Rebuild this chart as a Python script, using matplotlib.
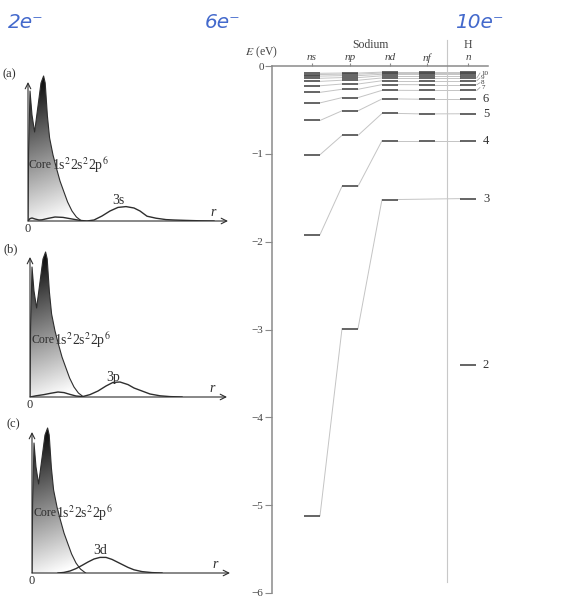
import numpy as np
import matplotlib.pyplot as plt
from matplotlib.patches import Polygon

plt.rcParams['font.family'] = ['Liberation Serif', 'DejaVu Serif']
plt.rcParams['mathtext.fontset'] = 'stix'

# ---- radial distributions (arbitrary units) ----
core_r = [0, 0.03, 0.1, 0.2, 0.33, 0.5, 0.65, 0.78, 0.86, 0.97, 1.08, 1.25,
          1.42, 1.6, 1.78, 1.98, 2.2, 2.42, 2.68]
core_p = [0, 3.5, 6.5, 5.3, 4.45, 5.75, 6.9, 7.25, 6.9, 5.25, 4.15, 3.3,
          2.65, 2.0, 1.5, 0.95, 0.5, 0.2, 0]

r_3s = [0, 0.1, 0.2, 0.35, 0.55, 0.7, 1.0, 1.35, 1.75, 2.2, 2.6, 2.95, 3.3,
        3.7, 4.1, 4.5, 4.9, 5.3, 5.6, 5.95, 6.4, 6.9, 7.3, 7.9, 8.6, 9.3]
p_3s = [0, 0.12, 0.15, 0.1, 0.05, 0.06, 0.13, 0.2, 0.18, 0.1, 0.03, 0.0, 0.05,
        0.25, 0.5, 0.68, 0.72, 0.65, 0.5, 0.24, 0.14, 0.07, 0.05, 0.03, 0.01, 0]

r_3p = [0, 0.3, 0.7, 1.0, 1.4, 1.7, 2.0, 2.3, 2.63, 3.0, 3.4, 3.8, 4.15, 4.5,
        4.9, 5.2, 5.6, 6.0, 6.5, 7.0, 7.6]
p_3p = [0, 0.06, 0.12, 0.18, 0.25, 0.22, 0.13, 0.05, 0.02, 0.12, 0.3, 0.55,
        0.73, 0.75, 0.62, 0.45, 0.3, 0.15, 0.06, 0.02, 0]

r_3d = [1.3, 1.6, 1.9, 2.2, 2.5, 2.8, 3.1, 3.4, 3.7, 4.0, 4.4, 4.8, 5.1, 5.5,
        6.0, 6.5]
p_3d = [0, 0.03, 0.1, 0.22, 0.38, 0.55, 0.7, 0.78, 0.78, 0.68, 0.48, 0.28,
        0.16, 0.07, 0.02, 0]

# ---- energy levels (eV) ----
n_vals = list(range(2, 15))
ns_E = [None, -5.12, -1.92, -1.01, -0.62, -0.42, -0.30, -0.225, -0.175, -0.14, -0.115, -0.097, -0.083]
np_E = [None, -2.99, -1.37, -0.79, -0.51, -0.36, -0.265, -0.205, -0.162, -0.132, -0.11, -0.093, -0.08]
nd_E = [None, -1.52, -0.85, -0.54, -0.375, -0.277, -0.212, -0.168, -0.136, -0.112, -0.094, -0.08, -0.07]
nf_E = [None, None, -0.85, -0.545, -0.378, -0.278, -0.213, -0.168, -0.136, -0.112, -0.094, -0.08, -0.07]
h_E = [-3.40, -1.51, -0.85, -0.544, -0.378, -0.278, -0.213, -0.168, -0.136, -0.112, -0.094, -0.08, -0.07]
col_labels = ['ns', 'np', 'nd', 'nf', 'n']
big_labels = ['2', '3', '4', '5', '6']
small_labels = ['7', '8', '9', '10']
notes = ['2e⁻', '6e⁻', '10e⁻']

W, H = 568, 600
fig = plt.figure(figsize=(W / 100, H / 100), dpi=100)

ink = '#2e2e2e'


def panel(ox, oy, tag, vr, vp, vlab, lab_xy, top, xend, core_y):
    ax = fig.add_axes([ox / W, 1 - oy / H, 210 / W, 150 / H])
    ax.set_xlim(0, 10.5)
    ax.set_ylim(0, 7.5)
    ax.axis('off')
    # shaded core
    X, Y = np.meshgrid(np.linspace(0, 10.5, 300), np.linspace(0, 7.5, 200))
    G = np.clip(0.93 - 0.13 * Y + 0.05 * X, 0, 1)
    img = ax.imshow(G, extent=[0, 10.5, 0, 7.5], origin='lower', cmap='gray',
                    vmin=0, vmax=1, aspect='auto', zorder=1)
    poly = Polygon(list(zip(core_r, core_p)), closed=True, facecolor='none',
                   edgecolor='none')
    ax.add_patch(poly)
    img.set_clip_path(poly)
    ax.plot(core_r, core_p, color=ink, lw=0.8, zorder=2)
    ax.plot(vr, vp, color=ink, lw=1.0, zorder=3)
    # axes arrows
    arr = dict(arrowstyle='->', color=ink, lw=0.8, shrinkA=0, shrinkB=0)
    ax.annotate('', xy=(0, top), xytext=(0, 0), arrowprops=arr, zorder=4)
    ax.annotate('', xy=(xend, 0), xytext=(0, 0), arrowprops=arr, zorder=4)
    ax.text(0.05, core_y, 'Core', fontsize=8.5, va='center', ha='left', color=ink, zorder=5)
    ax.text(1.2, core_y, r'1s$^2$2s$^2$2p$^6$', fontsize=10, va='center', ha='left',
            color=ink, zorder=5)
    ax.text(lab_xy[0], lab_xy[1], vlab, fontsize=10, ha='center', va='center', color=ink)
    ax.text(xend - 0.75, 0.45, 'r', fontsize=10, style='italic', ha='center',
            va='center', color=ink)
    ax.text(0, -0.4, '0', fontsize=9, ha='center', va='center', color=ink, clip_on=False)
    ax.text(-0.95, top + 0.4, tag, fontsize=9, ha='center', va='center', color=ink,
            clip_on=False)


panel(28, 221, '(a)', r_3s, p_3s, '3s', (4.5, 1.05), 6.95, 10.0, 2.8)
panel(30, 397, '(b)', r_3p, p_3p, '3p', (4.15, 1.0), 7.0, 9.85, 2.85)
panel(32, 573, '(c)', r_3d, p_3d, '3d', (3.4, 1.15), 7.05, 9.9, 3.0)

# ---- energy level diagram ----
ax = fig.add_axes([272 / W, 7 / H, 216 / W, 527 / H])
ax.set_xlim(0, 5.4)
ax.set_ylim(-6, 0)
cols = [1.0, 1.95, 2.95, 3.88, 4.9]
hw = 0.2
for s in ['right', 'bottom']:
    ax.spines[s].set_visible(False)
for s in ['left', 'top']:
    ax.spines[s].set_color('#8a8a8a')
    ax.spines[s].set_linewidth(1.1)
ax.set_yticks(range(-6, 1))
ax.tick_params(axis='y', direction='out', length=5, color='#8a8a8a',
               labelsize=8, labelcolor='#444444', pad=1)
ax.xaxis.tick_top()
ax.set_xticks(cols)
ax.set_xticklabels([])
ax.tick_params(axis='x', direction='out', length=2.5, color='#8a8a8a')
for x, lab in zip(cols, col_labels):
    ax.text(x, 0.095, lab, fontsize=8, style='italic', ha='center', va='center',
            color='#444444', clip_on=False)

columns = [ns_E, np_E, nd_E, nf_E, h_E]
# connecting lines for each n
for i in range(len(n_vals)):
    pts = [(cols[c], columns[c][i]) for c in range(5) if columns[c][i] is not None]
    for (x0, y0), (x1, y1) in zip(pts[:-1], pts[1:]):
        ax.plot([x0 + hw, x1 - hw], [y0, y1], color='#c4c4c4', lw=0.7, zorder=1)
# level bars
for c in range(5):
    for e in columns[c]:
        if e is not None:
            ax.plot([cols[c] - hw, cols[c] + hw], [e, e], color='#4a4a4a', lw=1.2,
                    solid_capstyle='butt', zorder=2)

# divider between Sodium and H
ax.plot([4.37, 4.37], [-5.87, 0.3], color='#c8c8c8', lw=0.8, clip_on=False)

# labels for H levels
for lab, e in zip(big_labels, h_E[:5]):
    ax.text(5.35, e, lab, fontsize=9, ha='center', va='center', color='#333333',
            clip_on=False)
for k, (lab, e) in enumerate(zip(small_labels, h_E[5:9])):
    ly = -0.245 + 0.055 * k
    ax.plot([cols[4] + hw + 0.02, 5.2], [e, ly], color='#999999', lw=0.5, clip_on=False)
    ax.text(5.23, ly, lab, fontsize=5, ha='left', va='center', color='#333333',
            clip_on=False)

ax.text(2.45, 0.235, 'Sodium', fontsize=8.5, ha='center', va='center', color='#444444',
        clip_on=False)
ax.text(cols[4], 0.235, 'H', fontsize=8.5, ha='center', va='center', color='#444444',
        clip_on=False)
ax.text(-0.25, 0.16, r'$E$ (eV)', fontsize=8.5, ha='center', va='center',
        color='#444444', clip_on=False)

# handwritten notes
for txt, x in zip(notes, [8, 205, 455]):
    fig.text(x / W, 1 - 22 / H, txt, fontsize=14.5, color='#4369cc', style='italic',
             ha='left', va='center', family='DejaVu Sans', fontweight='light')

fig.savefig('out.png', dpi=100, facecolor='white')
